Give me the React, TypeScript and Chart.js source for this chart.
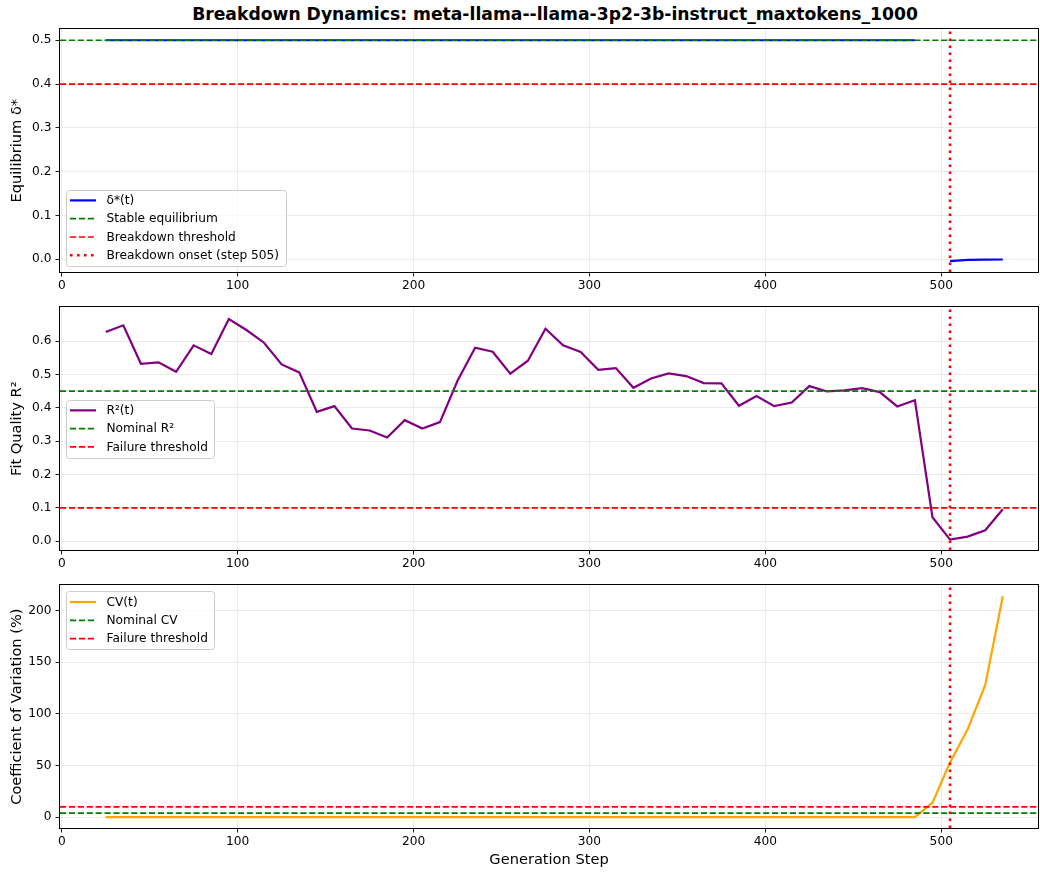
import React, { useEffect, useRef } from "react";
import { Chart, registerables } from "chart.js";

Chart.register(...registerables);

// ---------------- data ----------------
const steps = [
  25, 35, 45, 55, 65, 75, 85, 95, 105, 115,
  125, 135, 145, 155, 165, 175, 185, 195, 205, 215,
  225, 235, 245, 255, 265, 275, 285, 295, 305, 315,
  325, 335, 345, 355, 365, 375, 385, 395, 405, 415,
  425, 435, 445, 455, 465, 475, 485, 495, 505, 515,
  525, 535,
];

const deltaStar: (number | null)[] = [
  0.5, 0.5, 0.5, 0.5, 0.5, 0.5, 0.5, 0.5, 0.5, 0.5,
  0.5, 0.5, 0.5, 0.5, 0.5, 0.5, 0.5, 0.5, 0.5, 0.5,
  0.5, 0.5, 0.5, 0.5, 0.5, 0.5, 0.5, 0.5, 0.5, 0.5,
  0.5, 0.5, 0.5, 0.5, 0.5, 0.5, 0.5, 0.5, 0.5, 0.5,
  0.5, 0.5, 0.5, 0.5, 0.5, 0.5, 0.5, null, -0.004, -0.0015,
  -0.0008, -0.0005,
];

const r2 = [
  0.627, 0.647, 0.532, 0.536, 0.508, 0.587, 0.561, 0.666, 0.633, 0.595,
  0.530, 0.506, 0.388, 0.405, 0.338, 0.332, 0.311, 0.363, 0.338, 0.357,
  0.481, 0.580, 0.568, 0.502, 0.541, 0.637, 0.587, 0.567, 0.514, 0.519,
  0.460, 0.488, 0.503, 0.495, 0.474, 0.473, 0.406, 0.435, 0.405, 0.416,
  0.465, 0.449, 0.452, 0.459, 0.447, 0.404, 0.423, 0.072, 0.005, 0.014,
  0.033, 0.096,
];

const cv = [
  0, 0, 0, 0, 0, 0, 0, 0, 0, 0,
  0, 0, 0, 0, 0, 0, 0, 0, 0, 0,
  0, 0, 0, 0, 0, 0, 0, 0, 0, 0,
  0, 0, 0, 0, 0, 0, 0, 0, 0, 0,
  0, 0, 0, 0, 0, 0, 0, 14, 53, 85,
  128, 214,
];

const breakdownStep = 505;
const stableEquilibrium = 0.5;
const breakdownThreshold = 0.4;
const nominalR2 = 0.45;
const r2FailureThreshold = 0.1;
const nominalCV = 4;
const cvFailureThreshold = 10;

const xRange = [-1, 555];
const xTicks = [0, 100, 200, 300, 400, 500];
const deltaRange = [-0.029, 0.525];
const deltaTicks = [0, 0.1, 0.2, 0.3, 0.4, 0.5];
const r2Range = [-0.026, 0.701];
const r2Ticks = [0, 0.1, 0.2, 0.3, 0.4, 0.5, 0.6];
const cvRange = [-10.5, 224.5];
const cvTicks = [0, 50, 100, 150, 200];

const titleText = "Breakdown Dynamics: meta-llama--llama-3p2-3b-instruct_maxtokens_1000";

// ---------------- styling ----------------
const FAMILY = "'DejaVu Sans', sans-serif";
const TICK_SIZE = 12.2;
const LEGEND_SIZE = 12.2;
const LABEL_SIZE = 14.6;
const TITLE_SIZE = 17.2;
const GRID = "rgba(176,176,176,0.3)";
const DASH = [6.2, 2.7];
const DOT = [2.6, 4.4];

type LegendItem = { label: string; color: string; dash: number[]; width: number };

function legendPlugin(items: LegendItem[], anchor: "lower" | "center" | "upper") {
  return {
    id: "insideLegend",
    afterDraw(chart: any) {
      const { ctx, chartArea } = chart;
      ctx.save();
      ctx.font = `${LEGEND_SIZE}px ${FAMILY}`;
      const maxW = Math.max(...items.map((i) => ctx.measureText(i.label).width));
      const rowH = 18.3;
      const h = 21.4 + rowH * (items.length - 1);
      const w = 41 + maxW + 6;
      const x = chartArea.left + 5.5;
      let y: number;
      if (anchor === "lower") y = chartArea.bottom - 6 - h;
      else if (anchor === "upper") y = chartArea.top + 6;
      else y = (chartArea.top + chartArea.bottom) / 2 - h / 2;
      ctx.beginPath();
      (ctx as any).roundRect(Math.round(x) + 0.5, Math.round(y) + 0.5, Math.round(w), Math.round(h), 3);
      ctx.fillStyle = "rgba(255,255,255,0.8)";
      ctx.fill();
      ctx.strokeStyle = "#cccccc";
      ctx.lineWidth = 1;
      ctx.stroke();
      items.forEach((it, i) => {
        const cy = y + 10.7 + i * rowH;
        ctx.beginPath();
        ctx.setLineDash(it.dash);
        ctx.lineWidth = it.width;
        ctx.strokeStyle = it.color;
        ctx.moveTo(x + 4.5, cy);
        ctx.lineTo(x + 30.5, cy);
        ctx.stroke();
        ctx.setLineDash([]);
        ctx.fillStyle = "#000";
        ctx.textBaseline = "middle";
        ctx.textAlign = "left";
        ctx.fillText(it.label, x + 41, cy + 0.5);
      });
      ctx.restore();
    },
  };
}

const framePlugin = {
  id: "frame",
  afterDraw(chart: any) {
    const { ctx, chartArea } = chart;
    ctx.save();
    ctx.strokeStyle = "#000";
    ctx.lineWidth = 1;
    ctx.strokeRect(
      Math.round(chartArea.left) - 0.5,
      Math.round(chartArea.top) - 0.5,
      Math.round(chartArea.right - chartArea.left) + 1,
      Math.round(chartArea.bottom - chartArea.top) + 1
    );
    ctx.restore();
  },
};

function series(xs: number[], ys: (number | null)[]) {
  return xs.map((x, i) => ({ x, y: ys[i] }));
}

function hline(y: number) {
  return [
    { x: xRange[0], y },
    { x: xRange[1], y },
  ];
}

function vline(x: number, range: number[]) {
  return [
    { x, y: range[0] },
    { x, y: range[1] },
  ];
}

type PanelCfg = {
  datasets: any[];
  yRange: number[];
  yTicks: number[];
  yFmt: (v: number) => string;
  yTitle: string;
  xTitle?: string;
  xAxisHeight: number;
  legend: LegendItem[];
  anchor: "lower" | "center" | "upper";
};

function buildChart(canvas: HTMLCanvasElement, cfg: PanelCfg) {
  return new Chart(canvas, {
    type: "line",
    data: { datasets: cfg.datasets },
    options: {
      animation: false,
      responsive: false,
      devicePixelRatio: 1,
      events: [],
      layout: { padding: { top: 10, right: 2, left: 0, bottom: 0 } },
      plugins: { legend: { display: false }, tooltip: { enabled: false }, title: { display: false } },
      elements: { point: { radius: 0 }, line: { tension: 0 } },
      scales: {
        x: {
          type: "linear",
          min: xRange[0],
          max: xRange[1],
          afterBuildTicks: (s: any) => {
            s.ticks = xTicks.map((v) => ({ value: v }));
          },
          afterFit: (s: any) => {
            s.height = cfg.xAxisHeight;
          },
          grid: { color: GRID, lineWidth: 0.9, tickColor: "#000", tickLength: 4.5, drawTicks: true },
          border: { display: false },
          ticks: {
            color: "#000",
            font: { family: FAMILY, size: TICK_SIZE },
            padding: 2,
            maxRotation: 0,
            autoSkip: false,
            callback: (v: any) => String(v),
          },
          title: cfg.xTitle
            ? {
                display: true,
                text: cfg.xTitle,
                color: "#000",
                font: { family: FAMILY, size: LABEL_SIZE },
                padding: { top: 0, bottom: 3 },
              }
            : { display: false },
        },
        y: {
          type: "linear",
          min: cfg.yRange[0],
          max: cfg.yRange[1],
          afterBuildTicks: (s: any) => {
            s.ticks = cfg.yTicks.map((v) => ({ value: v }));
          },
          afterFit: (s: any) => {
            s.width = 60;
          },
          grid: { color: GRID, lineWidth: 0.9, tickColor: "#000", tickLength: 4.5, drawTicks: true },
          border: { display: false },
          ticks: {
            color: "#000",
            font: { family: FAMILY, size: TICK_SIZE },
            padding: 4,
            autoSkip: false,
            callback: (v: any) => cfg.yFmt(Number(v)),
          },
          title: {
            display: true,
            text: cfg.yTitle,
            color: "#000",
            font: { family: FAMILY, size: LABEL_SIZE },
            padding: { top: 8, bottom: 0 },
          },
        },
      },
    } as any,
    plugins: [framePlugin, legendPlugin(cfg.legend, cfg.anchor)],
  });
}

function lineDs(data: any[], color: string, width: number, dash: number[], order: number) {
  return {
    data,
    borderColor: color,
    backgroundColor: color,
    borderWidth: width,
    borderDash: dash,
    pointRadius: 0,
    fill: false,
    spanGaps: false,
    order,
  };
}

const PANEL_TOPS = [18, 296, 574];

export default function App() {
  const c1 = useRef<HTMLCanvasElement>(null);
  const c2 = useRef<HTMLCanvasElement>(null);
  const c3 = useRef<HTMLCanvasElement>(null);

  useEffect(() => {
    const charts: Chart[] = [];
    charts.push(
      buildChart(c1.current!, {
        datasets: [
          lineDs(series(steps, deltaStar), "#0000ff", 2.2, [], 4),
          lineDs(hline(stableEquilibrium), "#008000", 1.7, DASH, 3),
          lineDs(hline(breakdownThreshold), "#ff0000", 1.7, DASH, 2),
          lineDs(vline(breakdownStep, deltaRange), "#ff0000", 2.6, DOT, 1),
        ],
        yRange: deltaRange,
        yTicks: deltaTicks,
        yFmt: (v) => v.toFixed(1),
        yTitle: "Equilibrium δ*",
        xAxisHeight: 24,
        legend: [
          { label: "δ*(t)", color: "#0000ff", dash: [], width: 2.2 },
          { label: "Stable equilibrium", color: "#008000", dash: DASH, width: 1.7 },
          { label: "Breakdown threshold", color: "#ff0000", dash: DASH, width: 1.7 },
          { label: `Breakdown onset (step ${breakdownStep})`, color: "#ff0000", dash: DOT, width: 2.6 },
        ],
        anchor: "lower",
      })
    );
    charts.push(
      buildChart(c2.current!, {
        datasets: [
          lineDs(series(steps, r2), "#800080", 2.2, [], 4),
          lineDs(hline(nominalR2), "#008000", 1.7, DASH, 3),
          lineDs(hline(r2FailureThreshold), "#ff0000", 1.7, DASH, 2),
          lineDs(vline(breakdownStep, r2Range), "#ff0000", 2.6, DOT, 1),
        ],
        yRange: r2Range,
        yTicks: r2Ticks,
        yFmt: (v) => v.toFixed(1),
        yTitle: "Fit Quality R²",
        xAxisHeight: 24,
        legend: [
          { label: "R²(t)", color: "#800080", dash: [], width: 2.2 },
          { label: "Nominal R²", color: "#008000", dash: DASH, width: 1.7 },
          { label: "Failure threshold", color: "#ff0000", dash: DASH, width: 1.7 },
        ],
        anchor: "center",
      })
    );
    charts.push(
      buildChart(c3.current!, {
        datasets: [
          lineDs(series(steps, cv), "#ffa500", 2.2, [], 4),
          lineDs(hline(nominalCV), "#008000", 1.7, DASH, 3),
          lineDs(hline(cvFailureThreshold), "#ff0000", 1.7, DASH, 2),
          lineDs(vline(breakdownStep, cvRange), "#ff0000", 2.6, DOT, 1),
        ],
        yRange: cvRange,
        yTicks: cvTicks,
        yFmt: (v) => String(Math.round(v)),
        yTitle: "Coefficient of Variation (%)",
        xTitle: "Generation Step",
        xAxisHeight: 44,
        legend: [
          { label: "CV(t)", color: "#ffa500", dash: [], width: 2.2 },
          { label: "Nominal CV", color: "#008000", dash: DASH, width: 1.7 },
          { label: "Failure threshold", color: "#ff0000", dash: DASH, width: 1.7 },
        ],
        anchor: "upper",
      })
    );
    return () => charts.forEach((c) => c.destroy());
  }, []);

  const canvasStyle = (top: number, h: number): React.CSSProperties => ({
    position: "absolute",
    left: 0,
    top,
    width: 1040,
    height: h,
    display: "block",
  });

  return (
    <div style={{ position: "absolute", left: 0, top: 0, width: 1040, height: 872, background: "#fff" }}>
      <div
        style={{
          position: "absolute",
          left: 66,
          width: 978,
          top: 4,
          textAlign: "center",
          fontFamily: FAMILY,
          fontWeight: "bold",
          fontSize: TITLE_SIZE,
          lineHeight: "20px",
          color: "#000",
          whiteSpace: "nowrap",
        }}
      >
        {titleText}
      </div>
      <canvas ref={c1} width={1040} height={278} style={canvasStyle(PANEL_TOPS[0], 278)} />
      <canvas ref={c2} width={1040} height={278} style={canvasStyle(PANEL_TOPS[1], 278)} />
      <canvas ref={c3} width={1040} height={298} style={canvasStyle(PANEL_TOPS[2], 298)} />
    </div>
  );
}
